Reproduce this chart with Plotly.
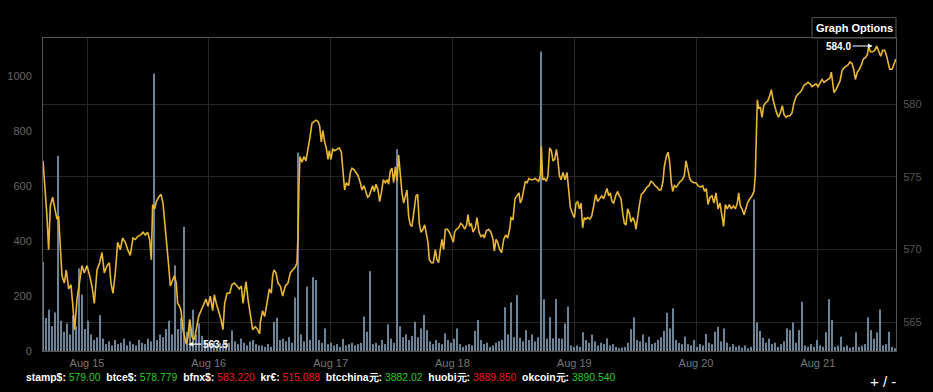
import numpy as np
import pandas as pd
import plotly.graph_objects as go

# ---------------- data ----------------
BASE_TIME = "2014-08-14 00:00"

# price line (hours since BASE_TIME, USD)
price_hours = [
    15.33, 15.79, 16.11, 16.44, 16.77, 17.23, 17.76, 18.08, 18.41, 18.74, 19.07, 19.53, 19.92, 20.38, 20.84, 21.17,
    21.57, 22.03, 22.55, 23.01, 23.47, 24.00, 24.52, 24.98, 25.44, 25.97, 26.49, 26.95, 27.41, 27.94, 28.40, 28.72,
    29.12, 29.58, 30.04, 30.56, 31.02, 31.55, 32.01, 32.53, 33.06, 33.52, 33.98, 34.50, 35.03, 35.49, 35.95, 36.34,
    36.67, 36.93, 37.33, 37.66, 38.12, 38.58, 38.97, 39.36, 39.76, 40.09, 40.42, 40.81, 41.21, 41.60, 41.86, 42.26,
    42.52, 42.91, 43.24, 43.57, 43.90, 44.23, 44.49, 44.69, 45.15, 45.54, 46.00, 46.46, 46.98, 47.44, 47.84, 48.30,
    48.76, 49.09, 49.48, 49.94, 50.40, 50.79, 51.12, 51.58, 52.11, 52.57, 53.03, 53.55, 54.01, 54.41, 54.74, 55.00,
    55.33, 55.72, 56.18, 56.64, 57.17, 57.63, 58.02,
    58.15, 58.60, 59.00, 59.46, 59.92, 60.31, 60.58, 60.84, 61.23, 61.63, 62.09, 62.55, 63.07, 63.60, 64.06, 64.52,
    65.04, 65.37, 65.57, 65.76, 65.96, 66.36, 66.75, 67.14, 67.54, 67.87, 68.33, 68.72, 69.11, 69.51, 69.84, 70.16,
    70.49, 70.82, 71.15, 71.48, 71.74, 72.07, 72.40, 72.79, 73.25, 73.71, 74.11, 74.43, 74.76, 75.09, 75.55, 75.88,
    76.21, 76.60, 77.00, 77.39, 77.85, 78.18, 78.57, 78.97, 79.29, 79.62, 79.95, 80.28, 80.61, 80.94, 81.33, 81.66,
    81.99, 82.38, 82.78, 83.17, 83.43, 83.76, 84.09, 84.42, 84.75, 85.07, 85.40, 85.73, 86.06, 86.39, 86.72, 87.04,
    87.37, 87.70, 88.03, 88.42, 88.82, 89.15, 89.47, 89.80, 90.20, 90.53, 90.85, 91.18, 91.45, 91.84, 92.23, 92.63,
    92.96, 93.28, 93.61, 93.94, 94.27, 94.60, 94.99, 95.39, 95.78, 96.17, 96.44, 96.77, 97.23, 97.62, 98.01, 98.41,
    98.80, 99.06, 99.39, 99.72, 100.05, 100.51,
    100.84, 101.24, 101.63, 102.03, 102.29, 102.68, 103.14, 103.60, 104.00, 104.26, 104.59, 104.92, 105.31, 105.70,
    106.10, 106.49, 106.89, 107.28, 107.54, 107.94, 108.33, 108.73, 109.12, 109.38, 109.71, 110.04, 110.37, 110.70,
    111.09, 111.48, 111.88, 112.27, 112.67, 112.99, 113.32, 113.52, 113.78, 114.11, 114.51, 114.83, 115.16, 115.49,
    115.82, 116.15, 116.48, 116.74, 117.07, 117.40, 117.79, 118.18, 118.58, 118.91, 119.23, 119.63, 120.02, 120.35,
    120.68, 121.01, 121.34, 121.66, 121.99, 122.32, 122.65, 123.04, 123.44, 123.83, 124.23, 124.62, 125.01, 125.41,
    125.80, 126.13, 126.46, 126.79, 127.12, 127.44, 127.77, 128.17, 128.56, 128.89, 129.22, 129.55, 129.87, 130.20,
    130.53, 130.86, 131.19, 131.58, 131.91, 132.17, 132.50, 132.90, 133.22, 133.55, 133.95, 134.34, 134.73, 135.13,
    135.52, 135.92, 136.31, 136.70, 137.10, 137.49, 137.75, 138.15, 138.48, 138.81, 139.13, 139.40, 139.73, 140.12,
    140.51, 140.91, 141.30, 141.70, 142.02, 142.35, 142.75,
    143.07, 143.53, 143.99, 144.39, 144.85, 145.31, 145.70, 146.03, 146.36, 146.75, 147.15, 147.54, 147.93, 148.33,
    148.72, 149.12, 149.44, 149.77, 150.17, 150.56, 150.95, 151.35, 151.74, 152.14, 152.40, 152.73, 153.06, 153.45,
    153.84, 154.24, 154.63, 155.03, 155.42, 155.68, 155.88, 156.08, 156.34, 156.67, 157.00, 157.33, 157.72, 158.11,
    158.44, 158.84, 159.17, 159.49, 159.89, 160.22, 160.61, 161.00, 161.33, 161.73, 162.12, 162.51, 162.91, 163.30,
    163.70, 164.09, 164.48, 164.88, 165.27, 165.67, 166.06, 166.45, 166.85, 167.24, 167.64, 168.03, 168.42, 168.82,
    169.21, 169.61, 170.00, 170.39, 170.66, 170.92, 171.18, 171.58, 171.97, 172.37, 172.76, 173.15, 173.55, 173.94,
    174.34, 174.73, 175.06, 175.39, 175.78, 176.18, 176.57, 176.96, 177.36, 177.75, 178.01, 178.41, 178.80, 179.20,
    179.59, 179.98, 180.38, 180.77, 181.17, 181.56, 181.82, 182.15, 182.61, 182.94, 183.40,
]

price_values = [
    576.1, 573.9, 572.3, 570.0, 573.0, 573.6, 572.5, 572.1, 572.3, 570.0, 568.2, 567.7, 568.6, 567.3, 567.6, 566.3,
    564.5, 566.6, 567.9, 568.9, 568.4, 568.9, 568.2, 567.5, 566.3, 568.6, 569.1, 569.8, 568.4, 568.9, 569.1, 567.7,
    567.0, 568.4, 570.5, 570.0, 570.8, 570.5, 570.0, 569.6, 570.8, 570.7, 570.9, 571.0, 571.2, 571.0, 571.2, 570.7,
    569.3, 573.1, 572.8, 573.3, 573.6, 573.8, 573.2, 571.8, 570.5, 568.9, 567.5, 567.9, 568.2, 567.7, 566.3, 566.1,
    565.8, 564.5, 564.0, 563.5, 564.0, 565.2, 564.6, 564.0, 563.8, 564.5, 565.4, 565.8, 566.3, 566.6, 566.1, 566.8,
    565.8, 566.9, 566.3, 565.8, 565.2, 564.5, 566.3, 567.0, 567.0, 567.6, 567.7, 567.5, 567.3, 567.5, 566.3, 567.0,
    567.8, 566.6, 565.4, 564.5, 564.7, 564.5, 564.2,
    565.0, 565.8, 565.4, 566.3, 567.3, 567.0, 568.2, 568.6, 568.4, 567.7, 567.5, 566.8, 567.5, 567.7, 568.4, 568.6,
    568.8, 569.1, 570.9, 574.4, 576.4, 576.0, 576.4, 576.1, 577.1, 577.6, 578.7, 578.8, 578.9, 578.8, 578.5, 577.4,
    578.2, 577.4, 577.0, 576.2, 576.8, 576.2, 576.9, 576.8, 576.9, 577.0, 576.7, 575.1, 574.1, 574.6, 574.4, 575.3,
    575.6, 575.5, 575.3, 575.1, 574.6, 574.1, 574.4, 573.9, 573.6, 573.7, 574.1, 574.4, 574.0, 574.5, 574.1, 573.3,
    573.9, 574.8, 574.6, 574.8, 574.5, 575.4, 575.6, 574.6, 575.7, 574.7, 576.5, 575.1, 573.9, 573.2, 573.7, 574.1,
    572.3, 571.7, 571.6, 572.8, 573.7, 573.8, 571.8, 571.2, 571.4, 571.7, 571.0, 570.5, 569.3, 569.1, 569.1, 570.0,
    569.3, 569.1, 570.0, 570.7, 570.0, 571.4, 571.4, 571.2, 570.9, 570.5, 571.2, 571.4, 571.5, 571.8, 571.7, 571.4,
    571.7, 572.4, 571.6, 571.8, 571.2, 571.5,
    572.2, 571.2, 570.9, 571.0, 570.8, 571.3, 571.4, 571.2, 570.7, 569.9, 570.7, 570.5, 570.0, 569.8,
    570.7, 571.0, 570.8, 571.4, 572.2, 572.1, 573.5, 573.7, 573.9, 573.2, 573.5, 574.1, 574.7, 574.6,
    574.9, 574.8, 574.8, 574.9, 574.8, 574.7, 575.1, 577.1, 574.8, 574.9, 574.7, 575.1, 577.0, 576.8,
    576.1, 576.2, 576.9, 576.3, 575.1, 574.8, 575.3, 574.8, 575.3, 574.1, 572.9, 572.5, 572.2, 573.2,
    573.3, 572.8, 573.2, 571.5, 572.2, 572.1, 572.2, 572.1, 572.3, 573.0, 573.8, 573.3, 573.5, 573.7,
    573.5, 573.8, 574.2, 573.7, 573.9, 573.3, 573.2, 573.7, 574.0, 573.7, 573.5, 572.5, 571.8, 571.7,
    572.8, 572.5, 571.9, 572.2, 571.9, 571.4, 572.3, 573.2, 573.8, 573.9, 574.1, 574.3, 574.4, 574.7,
    574.6, 574.4, 574.3, 574.1, 574.1, 574.7, 575.7, 576.4, 576.7, 576.0, 574.6, 574.0, 574.4, 574.3,
    574.5, 574.7, 574.8, 575.1, 576.1, 575.5, 574.9,
    574.7, 574.6, 574.6, 574.4, 574.3, 574.4, 574.0, 574.2, 573.1, 573.6, 573.7, 573.2, 573.9, 572.8,
    573.2, 572.3, 571.6, 573.1, 572.8, 573.1, 572.8, 573.0, 572.8, 573.2, 573.9, 573.0, 572.8, 572.4,
    572.9, 573.3, 573.5, 573.7, 574.0, 575.1, 577.8, 580.3, 579.7, 579.8, 579.1, 579.9, 580.1, 580.2,
    580.5, 581.0, 580.3, 579.8, 579.4, 579.1, 579.4, 579.9, 579.3, 579.1, 579.2, 579.2, 579.4, 580.1,
    580.5, 580.7, 580.8, 581.0, 581.3, 581.4, 581.5, 581.4, 581.2, 581.3, 581.4, 581.2, 581.5, 581.7,
    581.5, 581.6, 581.7, 581.8, 582.2, 581.5, 580.8, 581.0, 581.3, 581.6, 582.3, 582.5, 582.6, 582.7,
    582.9, 582.8, 582.4, 581.7, 582.2, 582.4, 582.7, 583.1, 583.2, 583.4, 583.9, 583.6, 583.6, 583.7,
    584.0, 583.6, 583.3, 583.7, 583.7, 583.3, 582.8, 582.4, 582.4, 582.7, 583.1,
]

# volume bars (BTC), one bar per ~35.5 minutes starting at BAR_START_HOUR
BAR_START_HOUR = 15.39
BAR_STEP_HOURS = 0.5911
volume_values = [
    324, 120, 150, 90, 140, 709, 110, 70, 100, 60,
    130, 90, 300, 205, 80, 110, 60, 40, 50, 130,
    45, 25, 35, 20, 40, 25, 30, 45, 20, 35,
    25, 20, 40, 30, 25, 45, 35, 1008, 40, 60,
    50, 80, 110, 60, 311, 80, 120, 451, 70, 90,
    150, 60, 100, 55, 40, 30, 25, 35, 20, 30,
    25, 40, 30, 75, 35, 25, 45, 30, 20, 35,
    40, 25, 20, 20, 15, 25, 15, 106, 121, 40,
    45, 35, 50, 30, 194, 721, 60, 35, 234, 40,
    268, 258, 40, 30, 82, 25, 30, 20, 25, 15,
    44, 20, 25, 30, 20, 25, 30, 125, 70, 290,
    25, 30, 20, 40, 25, 97, 45, 30, 733, 90,
    50, 60, 40, 55, 106, 50, 82, 131, 76, 35,
    25, 40, 30, 25, 64, 40, 30, 45, 82, 25,
    15, 20, 25, 20, 73, 113, 40, 25, 30, 15,
    20, 30, 36, 40, 159, 60, 177, 50, 203, 48,
    35, 76, 40, 60, 35, 50, 1088, 188, 45, 123,
    46, 189, 46, 45, 100, 161, 20, 15, 20, 15,
    68, 40, 30, 60, 35, 20, 30, 25, 46, 20,
    25, 15, 10, 12, 15, 30, 79, 122, 40, 35,
    60, 30, 52, 25, 30, 40, 50, 73, 139, 82,
    155, 40, 30, 25, 52, 25, 20, 40, 15, 25,
    20, 62, 30, 25, 70, 88, 35, 82, 30, 15,
    25, 15, 20, 12, 20, 10, 15, 551, 104, 73,
    48, 30, 45, 25, 30, 15, 25, 35, 82, 76,
    104, 30, 76, 179, 20, 15, 25, 15, 40, 20,
    15, 68, 188, 113, 15, 20, 52, 15, 20, 12,
    15, 68, 15, 20, 25, 122, 76, 45, 68, 151,
    20, 25, 70, 15, 10,
]

left_ticks = [0, 200, 400, 600, 800, 1000]
right_ticks = [565, 570, 575, 580]

ticker_labels = ["stamp$", "btce$", "bfnx$", "kr€", "btcchina元", "huobi元", "okcoin元"]
ticker_values = ["579.00", "578.779", "583.220", "515.088", "3882.02", "3889.850", "3890.540"]
ticker_up = [True, True, False, False, True, False, True]

# ---------------- build ----------------
base = pd.Timestamp(BASE_TIME)
price_times = base + pd.to_timedelta(np.array(price_hours), unit="h")
bar_hours = BAR_START_HOUR + BAR_STEP_HOURS * np.arange(len(volume_values))
bar_times = base + pd.to_timedelta(bar_hours, unit="h")

FONT = "Liberation Sans, Arial, sans-serif"
GRID = "#262626"
FRAME = "#555555"

fig = go.Figure()
fig.add_trace(go.Bar(
    x=bar_times, y=volume_values, yaxis="y",
    marker=dict(color="rgb(108,130,150)", line=dict(width=0)),
    hoverinfo="skip",
))
fig.add_trace(go.Scatter(
    x=price_times, y=price_values, yaxis="y2", mode="lines",
    line=dict(color="#e9b733", width=1.6),
    hoverinfo="skip",
))

pv = np.array(price_values)
imax = int(np.argmax(pv))
imin = int(np.argmin(pv))

annotations = [
    dict(x=price_times[imax], y=pv[imax], xref="x", yref="y2",
         text="<b>%.1f</b>" % pv[imax], showarrow=True, ax=-38, ay=0,
         arrowhead=2, arrowsize=0.8, arrowwidth=1.2, arrowcolor="white", standoff=4,
         font=dict(family=FONT, size=10, color="white")),
    dict(x=price_times[imin], y=pv[imin], xref="x", yref="y2",
         text="<b>%.1f</b>" % pv[imin], showarrow=True, ax=29, ay=0,
         arrowhead=2, arrowsize=0.8, arrowwidth=1.2, arrowcolor="white", standoff=2,
         font=dict(family=FONT, size=10, color="white")),
    dict(x=0.951, y=1.032, xref="paper", yref="paper", xanchor="center", yanchor="middle",
         text="<b>Graph Options</b>", showarrow=False,
         font=dict(family=FONT, size=11, color="white")),
]

parts = []
for lab, val, up in zip(ticker_labels, ticker_values, ticker_up):
    col = "#25cc25" if up else "#f01a1a"
    parts.append("<b>%s:</b> <span style='color:%s'>%s</span>" % (lab, col, val))
ticker_text = "&nbsp;&nbsp;".join(parts)
annotations.append(dict(x=-0.0225, y=-0.085, xref="paper", yref="paper",
                        xanchor="left", yanchor="middle", text=ticker_text, showarrow=False,
                        font=dict(family=FONT, size=10.4, color="white")))
annotations.append(dict(x=1.002, y=-0.098, xref="paper", yref="paper",
                        xanchor="right", yanchor="middle", text="+ / -", showarrow=False,
                        font=dict(family=FONT, size=15, color="white")))

fig.update_layout(
    width=933, height=392,
    paper_bgcolor="black", plot_bgcolor="black",
    margin=dict(l=43, r=37, t=38, b=41, pad=0, autoexpand=False),
    showlegend=False,
    bargap=0.5,
    font=dict(family=FONT, color="#666"),
    xaxis=dict(
        type="date", automargin=False,
        range=[price_times[0], price_times[-1]],
        dtick=86400000, tick0="2014-08-15",
        tickformat="%b %d",
        showgrid=True, gridcolor=GRID, gridwidth=1,
        showline=True, linecolor=FRAME, linewidth=1, mirror=True,
        ticks="", zeroline=False,
        tickfont=dict(family=FONT, size=11, color="#777"),
        ticklabelstandoff=2,
    ),
    yaxis=dict(
        automargin=False,
        range=[0, 1137], tickvals=left_ticks,
        showgrid=False, zeroline=False,
        showline=True, linecolor=FRAME, linewidth=1,
        ticks="", ticklabelstandoff=8,
        tickfont=dict(family=FONT, size=11, color="#666"),
    ),
    yaxis2=dict(
        automargin=False,
        overlaying="y", side="right",
        range=[563.03, 584.55], tickvals=right_ticks,
        showgrid=True, gridcolor=GRID, gridwidth=1, zeroline=False,
        showline=True, linecolor=FRAME, linewidth=1,
        ticks="", ticklabelstandoff=4,
        tickfont=dict(family=FONT, size=11, color="#555"),
    ),
    shapes=[dict(type="rect", xref="paper", yref="paper",
                 x0=0.9016, x1=1.0, y0=1.0, y1=1.065,
                 line=dict(color=FRAME, width=1), fillcolor="rgba(0,0,0,0)")],
    annotations=annotations,
)

fig.write_html("out.html", config={"displayModeBar": False},
               post_script="document.body.style.margin='0px';document.body.style.overflow='hidden';")
